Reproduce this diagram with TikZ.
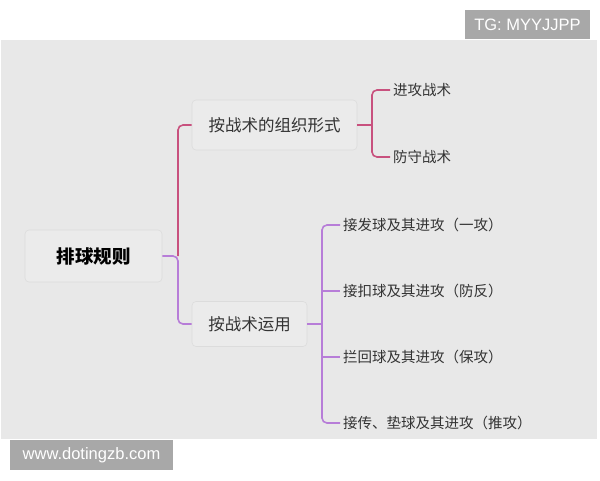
\documentclass[tikz,border=0pt]{standalone}
\usepackage{fontspec}
\setmainfont{Noto Sans CJK SC}
\newfontfamily\markfont{Liberation Sans}
\usetikzlibrary{positioning}
\definecolor{sheet}{HTML}{E8E8E8}
\definecolor{boxfill}{HTML}{EBEBEB}
\definecolor{boxline}{HTML}{DCDCDC}
\definecolor{redline}{HTML}{C8517E}
\definecolor{purpleline}{HTML}{B77DD8}
\definecolor{markgrey}{HTML}{A8A8A8}
\definecolor{ink}{HTML}{333333}

\begin{document}
\begin{tikzpicture}[x=1pt,y=-1pt,
    topic/.style={draw=boxline,fill=boxfill,line width=0.6pt,rounded corners=4pt,text=ink,inner sep=0pt},
    leaf/.style={anchor=west,inner sep=3pt,text=ink,font=\fontsize{14.5}{16}\selectfont},
    branch/.style={line width=1.6pt,rounded corners=5pt},
    watermark/.style={fill=markgrey,text=white,inner sep=0pt,font=\markfont\fontsize{16.5}{18}\selectfont}]
  \useasboundingbox (0,0) rectangle (600,480);
  \fill[sheet] (1,40) rectangle (597,439);

  % main topics
  \node[topic,minimum width=137,minimum height=52,text=black,
        font=\fontsize{18.5}{20}\selectfont\bfseries] (root) at (93.5,256) {排球规则};
  \node[topic,minimum width=165,minimum height=50,
        font=\fontsize{16.5}{18}\selectfont] (org) at (274.5,125) {按战术的组织形式};
  \node[topic,minimum width=115,minimum height=45,
        font=\fontsize{16.5}{18}\selectfont] (use) at (249.5,324) {按战术运用};

  % leaves
  \node[leaf] (atk) at (390,90) {进攻战术};
  \node[leaf] (def) at (390,157) {防守战术};
  \node[leaf] (l1) at (340,225) {接发球及其进攻（一攻）};
  \node[leaf] (l2) at (340,291) {接扣球及其进攻（防反）};
  \node[leaf] (l3) at (340,357) {拦回球及其进攻（保攻）};
  \node[leaf] (l4) at (340,423) {接传、垫球及其进攻（推攻）};

  \coordinate (j0) at (178,256);
  \coordinate (j1) at (372,125);
  \coordinate (j2) at (322,324);

  % connectors
  \draw[branch,redline] (j0) |- (org.west);
  \draw[branch,purpleline] (root.east) -- (j0) |- (use.west);
  \draw[branch,redline] (org.east) -- (j1);
  \draw[branch,redline] (atk.west) -| (j1) |- (def.west);
  \draw[branch,purpleline] (use.east) -- (j2);
  \draw[branch,purpleline] (l1.west) -| (j2) |- (l4.west);
  \draw[branch,purpleline] (j2 |- l2.west) -- (l2.west);
  \draw[branch,purpleline] (j2 |- l3.west) -- (l3.west);

  % watermarks
  \node[watermark,minimum width=125,minimum height=29] (tg) at (527.5,24.5) {TG: MYYJJPP};
  \node[watermark,minimum width=163,minimum height=30] (site) at (91.5,455) {www.dotingzb.com};
\end{tikzpicture}
\end{document}
